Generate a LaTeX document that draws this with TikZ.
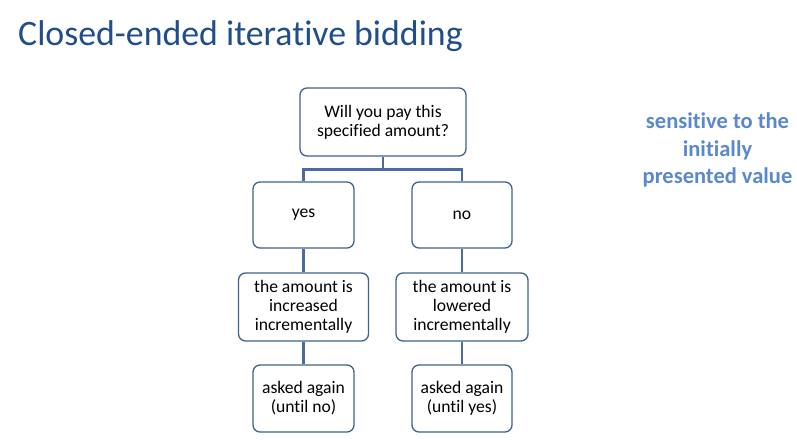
\documentclass[tikz,border=0pt]{standalone}
\usepackage{fontspec}
\setmainfont{Carlito}[Ligatures=NoCommon]
\usetikzlibrary{calc}
\begin{document}
\begin{tikzpicture}[x=1pt,y=-1pt,
  box/.style={draw=boxedge,line width=1.3pt,rounded corners=7pt,fill=white,
    align=center,font=\fontsize{17.6}{19}\selectfont,inner sep=0pt},
  link/.style={draw=linkblue,line width=2.6pt}]
\definecolor{boxedge}{HTML}{41618F}
\definecolor{linkblue}{HTML}{4A6C9E}
\definecolor{titleblue}{HTML}{1F4E8A}
\definecolor{noteblue}{HTML}{5A88CC}
\useasboundingbox (0,0) rectangle (797,439);
% title
\node[anchor=base west,text=titleblue,font=\fontsize{35.8}{40}\selectfont,inner sep=0pt]
  (title) at (18,45) {Closed-ended iterative bidding};
% side note
\node[text=noteblue,font=\bfseries\fontsize{22.5}{27.5}\selectfont,align=center]
  (note) at (717.5,150) {sensitive to the\\initially\\presented value};
% boxes
\node[box,minimum width=166pt,minimum height=68pt] (q) at (383,122) {Will you pay this\\specified amount?};
\node[box,minimum width=101pt,minimum height=66pt] (yes) at (303.5,215) {yes};
\node[box,minimum width=100pt,minimum height=66pt] (no) at (462,215) {no};
\node[box,minimum width=130pt,minimum height=68pt] (inc) at (303.5,307) {the amount is\\increased\\incrementally};
\node[box,minimum width=132pt,minimum height=68pt] (low) at (462,307) {the amount is\\lowered\\incrementally};
\node[box,minimum width=101pt,minimum height=67pt] (again1) at (303.5,398.5) {asked again\\(until no)};
\node[box,minimum width=100pt,minimum height=67pt] (again2) at (462,398.5) {asked again\\(until yes)};
% connectors: split below the question, then straight drops
\coordinate (split) at ($(q.south)+(0,13)$);
\draw[link] (q.south) -- (split) -| (yes.north);
\draw[link] (split) -| (no.north);
\draw[link] (yes.south) -- (inc.north);
\draw[link] (no.south) -- (low.north);
\draw[link] (inc.south) -- (again1.north);
\draw[link] (low.south) -- (again2.north);
\end{tikzpicture}
\end{document}
